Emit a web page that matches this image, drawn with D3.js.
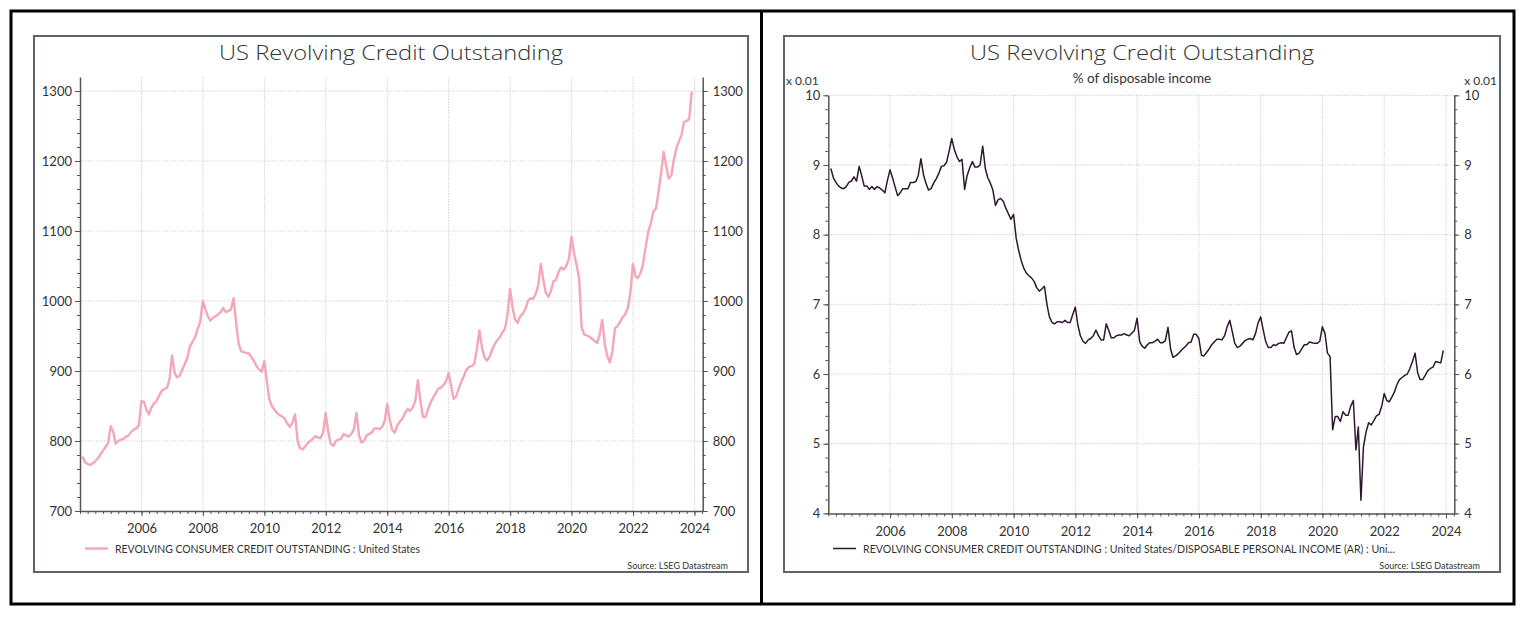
<!DOCTYPE html>
<html><head><meta charset="utf-8">
<script src="https://cdn.jsdelivr.net/npm/d3@7"></script>
<style>body{margin:0;background:#fff;}svg{display:block;}</style>
</head><body>
<svg id="c" width="1534" height="624"></svg>
<script>
// ---------------- DATA ----------------
const startYear = 2004;            // first monthly observation: Jan 2004
const yearTicks = [2006, 2008, 2010, 2012, 2014, 2016, 2018, 2020, 2022, 2024];
const creditTicks = [700, 800, 900, 1000, 1100, 1200, 1300];
const ratioTicks = [4, 5, 6, 7, 8, 9, 10];
const titleText = "US Revolving Credit Outstanding";
const subtitleText = "% of disposable income";
const scaleNote = "x 0.01";
const sourceText = "Source: LSEG Datastream";
const creditLegend = "REVOLVING CONSUMER CREDIT OUTSTANDING : United States";
const ratioLegend = "REVOLVING CONSUMER CREDIT OUTSTANDING : United States/DISPOSABLE PERSONAL INCOME (AR) : Uni...";

// Revolving consumer credit outstanding (USD bn), monthly Jan 2004 .. Nov 2023
const revolvingCredit = [
  778, 770, 767, 766, 768, 771, 775, 781, 786, 792, 797, 821,
  813, 796, 800, 802, 803, 806, 808, 813, 816, 818, 822, 857,
  856, 845, 838, 848, 854, 857, 865, 872, 874, 876, 888, 922,
  897, 891, 893, 902, 910, 919, 935, 942, 948, 960, 970, 1000,
  988, 978, 972, 976, 978, 981, 984, 990, 984, 986, 988, 1004,
  968, 940, 928, 927, 926, 925, 920, 914, 907, 902, 899, 914,
  885, 860, 850, 845, 840, 837, 835, 832, 825, 820, 826, 838,
  800, 790, 788, 792, 797, 800, 803, 807, 805, 804, 812, 840,
  812, 796, 793, 800, 802, 803, 810, 808, 806, 810, 817, 840,
  808, 798, 800, 808, 810, 812, 818, 818, 817, 820, 828, 853,
  830, 816, 812, 822, 828, 832, 840, 846, 843, 848, 857, 887,
  857, 835, 834, 845, 855, 862, 868, 875, 876, 880, 885, 897,
  878, 860, 864, 875, 885, 893, 902, 906, 907, 910, 930, 958,
  934, 920, 915, 920, 930, 938, 944, 948, 955, 960, 980, 1017,
  990, 974, 969, 978, 982, 988, 1000, 1004, 1003, 1010, 1022, 1053,
  1030, 1012, 1006, 1014, 1028, 1030, 1042, 1048, 1045, 1050, 1060, 1092,
  1068, 1052, 1032, 962, 952, 951, 949, 946, 943, 940, 952, 973,
  938, 922, 912, 928, 961, 964, 970, 977, 981, 990, 1012, 1053,
  1035, 1033, 1040, 1053, 1077, 1099, 1111, 1128, 1132, 1156, 1182, 1213,
  1192, 1175, 1179, 1201, 1218, 1228, 1237, 1256, 1257, 1260, 1299
];

// Revolving credit / disposable personal income (x 0.01), monthly Jan 2004 .. Nov 2023
const creditToIncome = [
  8.95, 8.82, 8.75, 8.70, 8.67, 8.66, 8.69, 8.75, 8.77, 8.83, 8.77, 8.98,
  8.84, 8.70, 8.70, 8.65, 8.69, 8.65, 8.69, 8.67, 8.64, 8.60, 8.78, 8.93,
  8.81, 8.69, 8.56, 8.60, 8.66, 8.66, 8.66, 8.75, 8.75, 8.76, 8.85, 9.09,
  8.86, 8.74, 8.64, 8.66, 8.74, 8.80, 8.88, 8.98, 8.99, 9.04, 9.20, 9.38,
  9.22, 9.12, 9.05, 9.08, 8.65, 8.85, 8.96, 9.05, 8.97, 8.97, 9.00, 9.27,
  8.95, 8.82, 8.74, 8.64, 8.42, 8.50, 8.52, 8.48, 8.38, 8.30, 8.22, 8.29,
  7.95, 7.78, 7.63, 7.52, 7.45, 7.41, 7.38, 7.33, 7.24, 7.19, 7.22, 7.26,
  6.99, 6.82, 6.74, 6.72, 6.75, 6.75, 6.74, 6.77, 6.74, 6.74, 6.85, 6.96,
  6.70, 6.55, 6.47, 6.44, 6.49, 6.51, 6.55, 6.63, 6.55, 6.49, 6.49, 6.72,
  6.62, 6.52, 6.52, 6.55, 6.56, 6.56, 6.58, 6.56, 6.55, 6.59, 6.63, 6.80,
  6.46, 6.40, 6.37, 6.42, 6.45, 6.45, 6.47, 6.50, 6.45, 6.45, 6.48, 6.67,
  6.36, 6.24, 6.26, 6.29, 6.33, 6.37, 6.40, 6.45, 6.46, 6.57, 6.57, 6.51,
  6.27, 6.26, 6.31, 6.36, 6.42, 6.46, 6.50, 6.50, 6.49, 6.55, 6.68, 6.77,
  6.60, 6.44, 6.38, 6.40, 6.44, 6.48, 6.50, 6.51, 6.49, 6.58, 6.73, 6.82,
  6.63, 6.47, 6.38, 6.38, 6.42, 6.41, 6.44, 6.45, 6.44, 6.52, 6.60, 6.62,
  6.38, 6.28, 6.30, 6.36, 6.42, 6.42, 6.46, 6.45, 6.44, 6.44, 6.47, 6.68,
  6.58, 6.30, 6.25, 5.20, 5.39, 5.39, 5.32, 5.46, 5.41, 5.41, 5.54, 5.62,
  4.91, 5.24, 4.19, 4.96, 5.17, 5.30, 5.27, 5.33, 5.40, 5.42, 5.53, 5.72,
  5.62, 5.60, 5.67, 5.74, 5.85, 5.92, 5.95, 5.98, 6.00, 6.08, 6.18, 6.30,
  6.02, 5.92, 5.92, 5.98, 6.05, 6.08, 6.10, 6.18, 6.17, 6.16, 6.34
];

// ---------------- RENDER ----------------
const svg = d3.select("#c");
const monthEnd = i => new Date(Date.UTC(startYear, i + 1, 0));
const xDomain = [new Date(Date.UTC(2004, 0, 1)), new Date(Date.UTC(2024, 3, 8))];
const quarterTicks = d3.utcMonth.every(3).range(xDomain[0], xDomain[1]);
const majorDates = yearTicks.map(y => new Date(Date.UTC(y, 0, 1)));

// outer frames
svg.append("rect").attr("x", 11).attr("y", 11).attr("width", 1503).attr("height", 593)
  .attr("fill", "none").attr("stroke", "#000").attr("stroke-width", 3);
svg.append("line").attr("x1", 761.5).attr("x2", 761.5).attr("y1", 11).attr("y2", 604)
  .attr("stroke", "#000").attr("stroke-width", 3);

const FONT = "Lato, 'Open Sans', sans-serif";

function panel(cfg) {
  const g = svg.append("g");
  // gray chart box
  g.append("rect").attr("x", cfg.box[0]).attr("y", cfg.box[1])
    .attr("width", cfg.box[2] - cfg.box[0]).attr("height", cfg.box[3] - cfg.box[1])
    .attr("fill", "#fff").attr("stroke", "#5d646e").attr("stroke-width", 2);

  const x = d3.scaleUtc().domain(xDomain).range([cfg.px0, cfg.px1]);
  const y = d3.scaleLinear().domain(cfg.yDomain).range([cfg.py1, cfg.py0]);

  // title
  g.append("text").attr("x", (cfg.box[0] + cfg.box[2]) / 2).attr("y", 60)
    .attr("text-anchor", "middle").attr("font-family", "'Open Sans', sans-serif")
    .attr("font-weight", 300).attr("font-size", 21).attr("fill", "#333")
    .attr("textLength", 344).attr("lengthAdjust", "spacingAndGlyphs").text(titleText);

  // grid
  const grid = g.append("g").attr("stroke", "#c8c8c8").attr("stroke-width", 0.8)
    .attr("stroke-dasharray", "1.5,1.2");
  grid.selectAll(".gx").data(majorDates).join("line")
    .attr("x1", d => x(d)).attr("x2", d => x(d)).attr("y1", cfg.py0).attr("y2", cfg.py1);
  grid.selectAll(".gy").data(cfg.ticks.filter(t => t !== cfg.yDomain[0])).join("line")
    .attr("x1", cfg.px0).attr("x2", cfg.px1).attr("y1", d => y(d)).attr("y2", d => y(d));

  const axisColor = "#555";
  const styleAxis = sel => {
    sel.select(".domain").attr("stroke", axisColor).attr("stroke-width", 1.5);
    sel.selectAll(".tick line").attr("stroke", axisColor);
    sel.selectAll(".tick text").attr("font-family", FONT).attr("font-size", 13).attr("fill", "#333");
  };

  // y minor ticks
  const minors = d3.range(cfg.yDomain[0], cfg.ticks[cfg.ticks.length - 1] + 1e-9, cfg.minorStep);
  g.append("g").attr("transform", `translate(${cfg.px0},0)`)
    .call(d3.axisLeft(y).tickValues(minors).tickSize(3).tickFormat(""))
    .call(s => { s.select(".domain").remove(); s.selectAll("line").attr("stroke", axisColor); });
  g.append("g").attr("transform", `translate(${cfg.px1},0)`)
    .call(d3.axisRight(y).tickValues(minors).tickSize(3).tickFormat(""))
    .call(s => { s.select(".domain").remove(); s.selectAll("line").attr("stroke", axisColor); });

  // y major
  g.append("g").attr("transform", `translate(${cfg.px0},0)`)
    .call(d3.axisLeft(y).tickValues(cfg.ticks).tickSize(5).tickPadding(3).tickSizeOuter(0).tickFormat(d3.format("d")))
    .call(styleAxis);
  g.append("g").attr("transform", `translate(${cfg.px1},0)`)
    .call(d3.axisRight(y).tickValues(cfg.ticks).tickSize(5).tickPadding(5).tickSizeOuter(0).tickFormat(d3.format("d")))
    .call(styleAxis);

  // x minor & major
  g.append("g").attr("transform", `translate(0,${cfg.py1})`)
    .call(d3.axisBottom(x).tickValues(quarterTicks).tickSize(3).tickFormat(""))
    .call(s => { s.select(".domain").remove(); s.selectAll("line").attr("stroke", axisColor); });
  g.append("g").attr("transform", `translate(0,${cfg.py1})`)
    .call(d3.axisBottom(x).tickValues(majorDates).tickSize(5).tickPadding(8).tickSizeOuter(0)
      .tickFormat(d3.utcFormat("%Y")))
    .call(styleAxis);

  // series line
  g.append("path").datum(cfg.values)
    .attr("fill", "none").attr("stroke", cfg.color).attr("stroke-width", cfg.width)
    .attr("stroke-linejoin", "round")
    .attr("d", d3.line().x((d, i) => x(monthEnd(i))).y(d => y(d)));

  // legend
  g.append("line").attr("x1", cfg.legend[0]).attr("x2", cfg.legend[0] + 23)
    .attr("y1", 548.5).attr("y2", 548.5).attr("stroke", cfg.color).attr("stroke-width", cfg.width);
  g.append("text").attr("x", cfg.legend[0] + 30).attr("y", 553)
    .attr("font-family", FONT).attr("font-size", 11.5).attr("fill", "#333")
    .attr("textLength", cfg.legendLen).attr("lengthAdjust", "spacingAndGlyphs").text(cfg.legendText);

  // source
  g.append("text").attr("x", cfg.box[2] - 20).attr("y", 569).attr("text-anchor", "end")
    .attr("font-family", FONT).attr("font-size", 9).attr("fill", "#333").text(sourceText);
  return {g, x, y};
}

panel({
  box: [34, 36, 748, 572], px0: 80, px1: 702.7, py0: 77, py1: 511,
  yDomain: [700, 1320], ticks: creditTicks, minorStep: 20,
  values: revolvingCredit, color: "#f4a7b7", width: 2.4,
  legend: [85, 0], legendText: creditLegend, legendLen: 305
});

const right = panel({
  box: [784, 36, 1500, 572], px0: 828.3, px1: 1454.3, py0: 95.3, py1: 513.4,
  yDomain: [4, 10], ticks: ratioTicks, minorStep: 0.2,
  values: creditToIncome, color: "#2e1830", width: 1.5,
  legend: [833, 0], legendText: ratioLegend, legendLen: 532
});

right.g.append("text").attr("x", 1142).attr("y", 83).attr("text-anchor", "middle")
  .attr("font-family", FONT).attr("font-size", 13.5).attr("fill", "#333").text(subtitleText);
right.g.append("text").attr("x", 786).attr("y", 85).attr("font-family", FONT)
  .attr("font-size", 12).attr("fill", "#333").text(scaleNote);
right.g.append("text").attr("x", 1497).attr("y", 85).attr("text-anchor", "end").attr("font-family", FONT)
  .attr("font-size", 12).attr("fill", "#333").text(scaleNote);
</script>
</body></html>
